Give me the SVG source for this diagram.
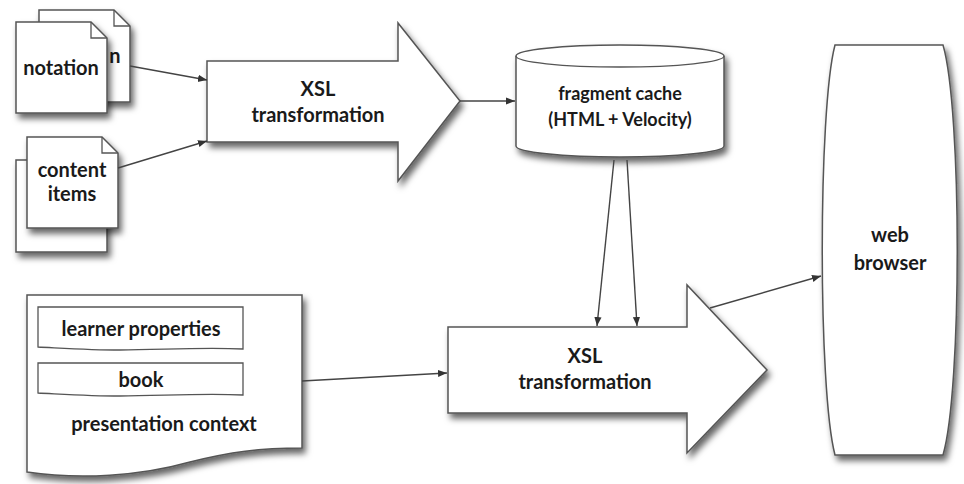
<svg xmlns="http://www.w3.org/2000/svg" width="964" height="484" viewBox="0 0 964 484">
<defs>
<filter id="sh" x="-20%" y="-20%" width="140%" height="140%">
<feDropShadow dx="3" dy="5" stdDeviation="3" flood-color="#000" flood-opacity="0.6"/>
</filter>
<marker id="ah" viewBox="0 0 10 10" refX="10" refY="5" markerWidth="9" markerHeight="9" markerUnits="userSpaceOnUse" orient="auto">
<path d="M0,1 L10,5 L0,9 Z" fill="#333"/>
</marker>
<style>
.shape{fill:#fff;stroke:#555;stroke-width:1.5;filter:url(#sh)}
.line{fill:none;stroke:#555;stroke-width:1.3}
.t{font-family:Lato,"Open Sans","Liberation Sans",sans-serif;font-weight:700;font-size:20px;fill:#1a1a1a;text-anchor:middle}
.s{font-size:18px}
.c{fill:none;stroke:#444;stroke-width:1.4;marker-end:url(#ah)}
</style>
</defs>
<rect width="964" height="484" fill="#fff"/>

<g id="notation-back">
<path class="shape" d="M39,10 H114 L130,26 V102 H39 Z"/>
<path class="line" d="M114,10 V26 H130"/>
<text class="t" x="115" y="63">n</text>
</g>
<g id="notation">
<path class="shape" d="M16,22 H91 L107,38 V113 H16 Z"/>
<path class="line" d="M91,22 V38 H107"/>
<text class="t" x="61" y="75">notation</text>
</g>

<g id="content-back">
<path class="shape" d="M16,160 H107 V252 H16 Z"/>
</g>
<g id="content-items">
<path class="shape" d="M27,137 H102 L118,153 V228 H27 Z"/>
<path class="line" d="M102,137 V153 H118"/>
<text class="t" x="72" y="177">content</text>
<text class="t" x="72" y="201">items</text>
</g>

<g id="xsl1">
<path class="shape" d="M207,61 H398 V23 L460,101 L398,181 V142 H207 Z"/>
<text class="t" x="318" y="96">XSL</text>
<text class="t" x="318" y="122">transformation</text>
</g>

<g id="cache">
<path class="shape" d="M516,56 V146 A104,11 0 0 0 724,146 V56 A104,11 0 0 0 516,56 Z"/>
<path class="line" d="M516,56 A104,11 0 0 0 724,56"/>
<text class="t s" x="620" y="100">fragment cache</text>
<text class="t s" x="620" y="126">(HTML + Velocity)</text>
</g>

<g id="browser">
<path class="shape" d="M835,45 H943 C962,110 962,390 943,455 H835 C818,390 818,110 835,45 Z"/>
<text class="t" x="890" y="242">web</text>
<text class="t" x="890" y="270">browser</text>
</g>

<g id="context">
<path class="shape" d="M27,295 H302 V448 C260,448 230,452 190,462 C140,476 80,480 27,472 Z"/>
<path class="line" d="M38,307 H243 V349 C200,347 160,350 120,350 C90,350 60,348 38,347 Z"/>
<text class="t" x="141" y="336">learner properties</text>
<path class="line" d="M38,363 H243 V395 C200,393 160,396 120,396 C90,396 60,394 38,393 Z"/>
<text class="t" x="141" y="387">book</text>
<text class="t" x="164" y="431">presentation context</text>
</g>

<g id="xsl2">
<path class="shape" d="M448,327 H687 V285 L767,370 L687,453 V413 H448 Z"/>
<text class="t" x="585" y="363">XSL</text>
<text class="t" x="585" y="389">transformation</text>
</g>

<g id="connectors">
<line class="c" x1="130" y1="66" x2="207" y2="80"/>
<line class="c" x1="118" y1="168" x2="207" y2="141"/>
<line class="c" x1="460" y1="101" x2="515" y2="101"/>
<line class="c" x1="614" y1="160" x2="597" y2="326"/>
<line class="c" x1="627" y1="160" x2="637" y2="326"/>
<line class="c" x1="302" y1="381" x2="447" y2="373"/>
<line class="c" x1="710" y1="308" x2="821" y2="276"/>
</g>
</svg>
